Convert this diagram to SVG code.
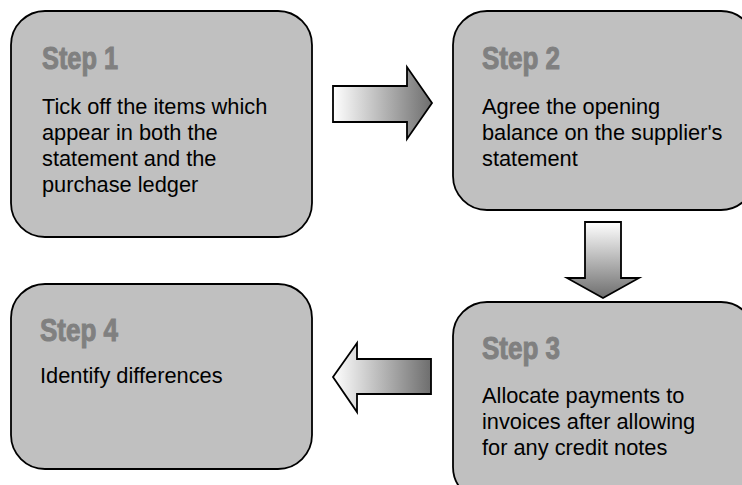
<svg xmlns="http://www.w3.org/2000/svg" width="742" height="485" viewBox="0 0 742 485">
<style>
.box{fill:#c0c0c0;stroke:#000;stroke-width:1.8}
.head{font-family:"Liberation Sans",Arial,sans-serif;font-weight:bold;font-size:31px;fill:#808080;stroke:#808080;stroke-width:1}
.body{font-family:"Liberation Sans",Arial,sans-serif;font-size:21.8px;fill:#000}
.arrow{stroke:#000;stroke-width:1.8;stroke-linejoin:miter}
</style>
<defs>
<linearGradient id="gR" x1="0" y1="0" x2="1" y2="0"><stop offset="0" stop-color="#ffffff"/><stop offset="1" stop-color="#6e6e6e"/></linearGradient>
<linearGradient id="gD" x1="0" y1="0" x2="0" y2="1"><stop offset="0" stop-color="#ffffff"/><stop offset="1" stop-color="#6e6e6e"/></linearGradient>
</defs>
<g id="step1">
<rect class="box" x="11" y="11" width="301" height="226" rx="34" ry="34"/>
<text class="head" x="42" y="69" textLength="76" lengthAdjust="spacingAndGlyphs">Step 1</text>
<text class="body" x="42" y="114">Tick off the items which</text>
<text class="body" x="42" y="140">appear in both the</text>
<text class="body" x="42" y="166">statement and the</text>
<text class="body" x="42" y="192">purchase ledger</text>
</g>
<g id="step2">
<rect class="box" x="453" y="11" width="302" height="199" rx="34" ry="34"/>
<text class="head" x="482" y="69" textLength="78" lengthAdjust="spacingAndGlyphs">Step 2</text>
<text class="body" x="482" y="114">Agree the opening</text>
<text class="body" x="482" y="140">balance on the supplier's</text>
<text class="body" x="482" y="166">statement</text>
</g>
<g id="step3">
<rect class="box" x="453" y="302" width="302" height="199" rx="34" ry="34"/>
<text class="head" x="482" y="359" textLength="78" lengthAdjust="spacingAndGlyphs">Step 3</text>
<text class="body" x="482" y="403">Allocate payments to</text>
<text class="body" x="482" y="429">invoices after allowing</text>
<text class="body" x="482" y="455">for any credit notes</text>
</g>
<g id="step4">
<rect class="box" x="11" y="284" width="301" height="185" rx="34" ry="34"/>
<text class="head" x="40" y="341" textLength="78" lengthAdjust="spacingAndGlyphs">Step 4</text>
<text class="body" x="40" y="383">Identify differences</text>
</g>
<g id="connectors">
<path class="arrow" fill="url(#gR)" d="M333,86 L407,86 L407,67 L432,103 L407,139 L407,122 L333,122 Z"/>
<path class="arrow" fill="url(#gD)" d="M585,222 L621,222 L621,278 L639,278 L603,298 L567,278 L585,278 Z"/>
<path class="arrow" fill="url(#gR)" d="M431,359 L357,359 L357,343 L333,377 L357,412 L357,394 L431,394 Z"/>
</g>
</svg>
